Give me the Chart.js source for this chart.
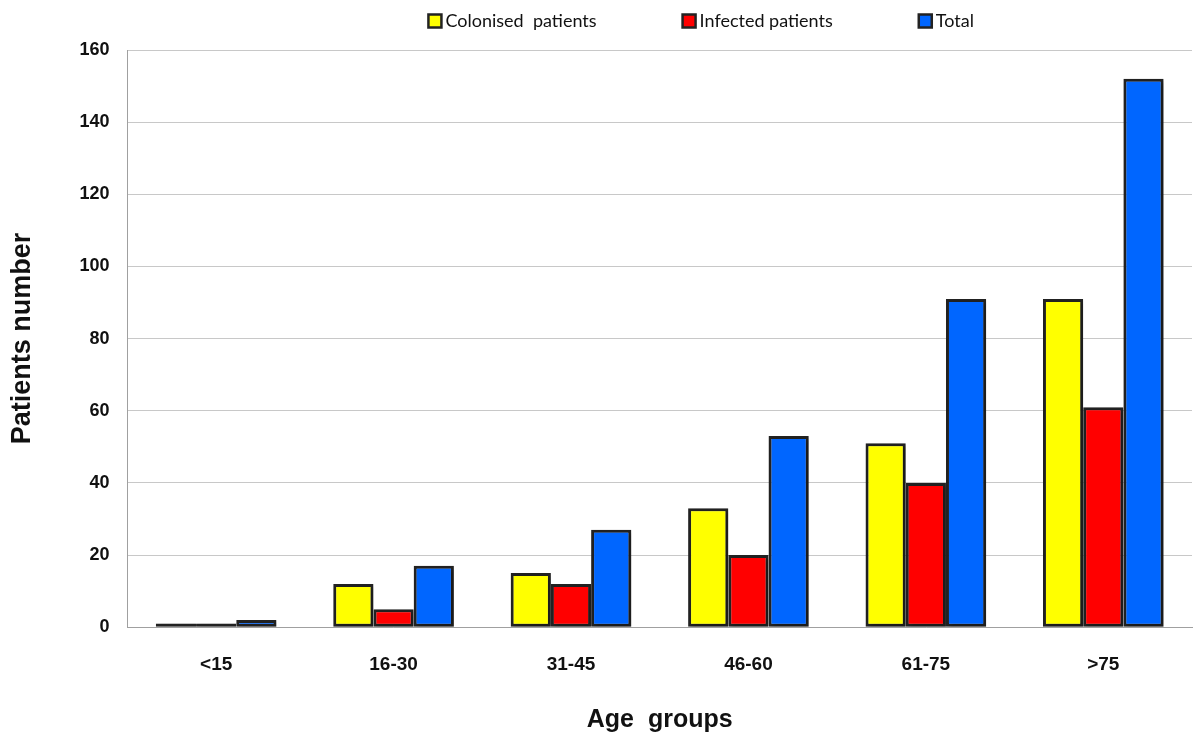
<!DOCTYPE html>
<html>
<head>
<meta charset="utf-8">
<script src="https://cdn.jsdelivr.net/npm/chart.js@4/dist/chart.umd.min.js"></script>
<style>
  html, body { margin: 0; padding: 0; background: #fff; }
  #wrap { width: 1200px; height: 735px; }
</style>
</head>
<body>
<div id="wrap"><canvas id="c" width="1200" height="735"></canvas></div>
<script>
const ageGroups = ['<15', '16-30', '31-45', '46-60', '61-75', '>75'];
const colonised = [1, 12, 15, 33, 51, 91];
const infected  = [1, 5, 12, 20, 40, 61];
const total     = [2, 17, 27, 53, 91, 152];
const yTicks    = [0, 20, 40, 60, 80, 100, 120, 140, 160];

const FONT = "'Liberation Sans', Arial, sans-serif";
const LEGEND_FONT = "Lato, 'Open Sans', sans-serif";

// soft drop shadow behind the bars
const barShadow = {
  id: 'barShadow',
  beforeDatasetsDraw(chart) {
    const ctx = chart.ctx;
    ctx.save();
    ctx.shadowColor = 'rgba(0,0,0,0.3)';
    ctx.shadowBlur = 4;
    ctx.shadowOffsetX = 2;
    ctx.shadowOffsetY = 2;
  },
  afterDatasetsDraw(chart) {
    chart.ctx.restore();
  }
};

// single-row legend across the top with wide gaps between entries
const topLegend = {
  id: 'topLegend',
  afterDraw(chart) {
    const ctx = chart.ctx;
    const gap = 86, box = 13, textGap = 4;
    ctx.save();
    ctx.font = '18px ' + LEGEND_FONT;
    ctx.textBaseline = 'middle';
    ctx.textAlign = 'left';
    let x = chart.chartArea.left + 301;
    const y = 21;
    chart.data.datasets.forEach(ds => {
      ctx.fillStyle = ds.backgroundColor;
      ctx.fillRect(x, y - box / 2, box, box);
      ctx.lineWidth = 2.5;
      ctx.strokeStyle = '#222';
      ctx.strokeRect(x, y - box / 2, box, box);
      ctx.fillStyle = '#111';
      const tx = x + box + textGap;
      ctx.fillText(ds.label, tx, y);
      x = tx + ctx.measureText(ds.label).width + gap;
    });
    ctx.restore();
  }
};

function series(label, data, color) {
  return {
    label, data,
    backgroundColor: color,
    borderColor: '#222222',
    borderWidth: 3,
    borderSkipped: false,
    categoryPercentage: 0.68,
    barPercentage: 1.0
  };
}

new Chart(document.getElementById('c'), {
  type: 'bar',
  data: {
    labels: ageGroups,
    datasets: [
      series('Colonised  patients', colonised, '#ffff00'),
      series('Infected patients', infected, '#ff0000'),
      series('Total', total, '#0066ff')
    ]
  },
  plugins: [barShadow, topLegend],
  options: {
    responsive: false,
    animation: false,
    layout: { padding: { left: 6, right: 8, top: 50, bottom: 0 } },
    plugins: {
      tooltip: { enabled: false },
      legend: { display: false }
    },
    scales: {
      x: {
        grid: { display: false, drawTicks: false },
        border: { color: '#a0a0a0', width: 1 },
        ticks: {
          color: '#111',
          padding: 26,
          font: { family: FONT, size: 19, weight: 'bold' }
        },
        title: {
          display: true,
          text: 'Age  groups',
          color: '#111',
          padding: { top: 3, bottom: 0 },
          font: { family: FONT, size: 25, weight: 'bold' }
        }
      },
      y: {
        min: 0,
        max: 160,
        afterBuildTicks(axis) { axis.ticks = yTicks.map(v => ({ value: v })); },
        grid: { color: '#c8c8c8', lineWidth: 1, drawTicks: false },
        border: { color: '#a0a0a0', width: 1 },
        ticks: {
          color: '#111',
          padding: 18,
          font: { family: FONT, size: 18, weight: 'bold' }
        },
        title: {
          display: true,
          text: 'Patients number',
          color: '#111',
          padding: { top: 0, bottom: 23 },
          font: { family: FONT, size: 27, weight: 'bold' }
        }
      }
    }
  }
});
</script>
</body>
</html>
